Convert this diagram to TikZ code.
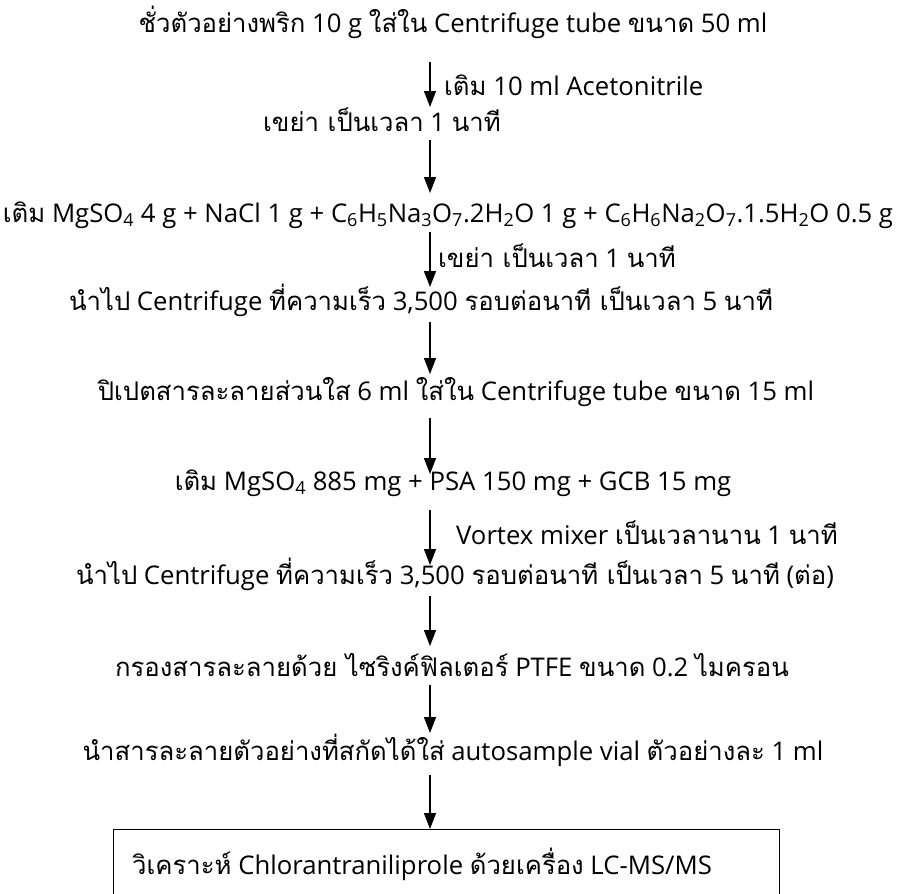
\documentclass[tikz,border=0pt]{standalone}
\usepackage{fontspec}
\setmainfont[Scale=0.97]{Open Sans}
\newfontfamily\tf[Script=Thai,Scale=0.97]{Loma}
\usetikzlibrary{arrows.meta}
\begin{document}
\begin{tikzpicture}[x=1pt,y=-1pt,
  txt/.style={inner sep=0pt, font=\fontsize{26.5}{31}\selectfont},
  arr/.style={line width=1.4pt, -{Triangle[width=12pt,length=16pt]}},
  boxnode/.style={draw, line width=1pt, anchor=north west, minimum width=666pt, minimum height=70pt, inner sep=0pt}]
\useasboundingbox (0,0) rectangle (897,894);
\fill[white] (0,0) rectangle (897,894);
% steps
\node[txt] (s1) at (453,22) {{\tf ชั่วตัวอย่างพริก} 10 g {\tf ใส่ใน} Centrifuge tube {\tf ขนาด} 50 ml};
\node[txt,anchor=west] (lb1) at (444,85) {{\tf เติม} 10 ml Acetonitrile};
\node[txt] (s2) at (382,120) {{\tf เขย่า เป็นเวลา} 1 {\tf นาที}};
\node[txt] (s3) at (448,215) {{\tf เติม} MgSO\textsubscript{4} 4 g + NaCl 1 g + C\textsubscript{6}H\textsubscript{5}Na\textsubscript{3}O\textsubscript{7}.2H\textsubscript{2}O 1 g + C\textsubscript{6}H\textsubscript{6}Na\textsubscript{2}O\textsubscript{7}.1.5H\textsubscript{2}O 0.5 g};
\node[txt,anchor=west] (lb3) at (438,256) {{\tf เขย่า เป็นเวลา} 1 {\tf นาที}};
\node[txt] (s4) at (421,300) {{\tf นำไป} Centrifuge {\tf ที่ความเร็ว} 3,500 {\tf รอบต่อนาที เป็นเวลา} 5 {\tf นาที}};
\node[txt] (s5) at (456,392) {{\tf ปิเปตสารละลายส่วนใส} 6 ml {\tf ใส่ใน} Centrifuge tube {\tf ขนาด} 15 ml};
\node[txt] (s6) at (453,483) {{\tf เติม} MgSO\textsubscript{4} 885 mg + PSA 150 mg + GCB 15 mg};
\node[txt,anchor=west] (lb6) at (456,533) {Vortex mixer {\tf เป็นเวลานาน} 1 {\tf นาที}};
\node[txt] (s7) at (455,574) {{\tf นำไป} Centrifuge {\tf ที่ความเร็ว} 3,500 {\tf รอบต่อนาที เป็นเวลา} 5 {\tf นาที} ({\tf ต่อ})};
\node[txt] (s8) at (452,665) {{\tf กรองสารละลายด้วย ไซริงค์ฟิลเตอร์} PTFE {\tf ขนาด} 0.2 {\tf ไมครอน}};
\node[txt] (s9) at (453,750) {{\tf นำสารละลายตัวอย่างที่สกัดได้ใส่} autosample vial {\tf ตัวอย่างละ} 1 ml};
\node[boxnode] (box) at (113,829) {};
\node[txt,anchor=west] (s10) at (132,864) {{\tf วิเคราะห์} Chlorantraniliprole {\tf ด้วยเครื่อง} LC-MS/MS};
% arrow end points
\path (430,62) coordinate (a1t) (430,107) coordinate (a1b)
      (430,140) coordinate (a2t) (430,193) coordinate (a2b)
      (430,232) coordinate (a3t) (430,287) coordinate (a3b)
      (430,322) coordinate (a4t) (430,374) coordinate (a4b)
      (430,418) coordinate (a5t) (430,474) coordinate (a5b)
      (430,510) coordinate (a6t) (430,565) coordinate (a6b)
      (430,596) coordinate (a7t) (430,646) coordinate (a7b)
      (430,685) coordinate (a8t) (430,733) coordinate (a8b)
      (430,775) coordinate (a9t);
\draw[arr] (a1t) -- (a1b);
\draw[arr] (a2t) -- (a2b);
\draw[arr] (a3t) -- (a3b);
\draw[arr] (a4t) -- (a4b);
\draw[arr] (a5t) -- (a5b);
\draw[arr] (a6t) -- (a6b);
\draw[arr] (a7t) -- (a7b);
\draw[arr] (a8t) -- (a8b);
\draw[arr] (a9t) -- (a9t |- box.north);
\end{tikzpicture}
\end{document}
